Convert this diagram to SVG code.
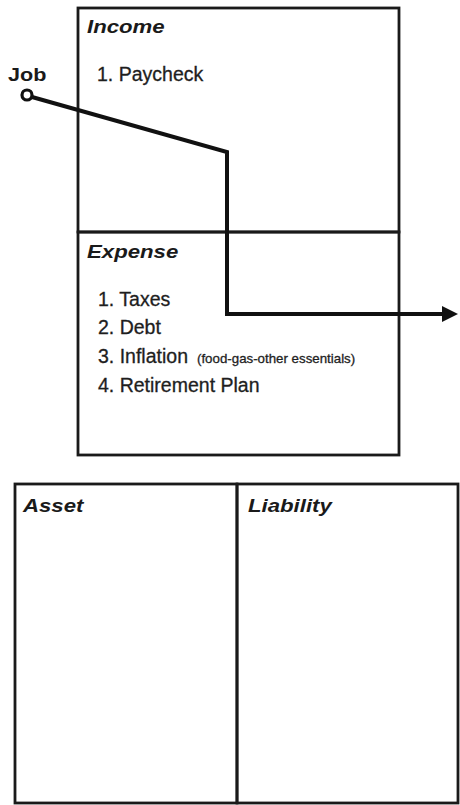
<svg xmlns="http://www.w3.org/2000/svg" width="460" height="805" viewBox="0 0 460 805">
<style>
.box{fill:none;stroke:#1a1a1a;stroke-width:2.8}
.h{font-family:"Liberation Sans",Arial,sans-serif;font-weight:bold;font-style:italic;font-size:18.5px;fill:#1a1a1a}
.j{font-family:"Liberation Sans",Arial,sans-serif;font-weight:bold;font-size:18px;fill:#1a1a1a}
.t{font-family:"Liberation Sans",Arial,sans-serif;font-size:19.5px;fill:#1e1e1e;stroke:#1e1e1e;stroke-width:0.3}
.s{font-size:13.3px}
.conn{fill:none;stroke:#111;stroke-width:4;stroke-linejoin:miter}
</style>
<defs>
<marker id="arr" markerWidth="5" markerHeight="5" refX="1" refY="2" orient="auto" markerUnits="strokeWidth">
<path d="M0,0 L4,2 L0,4 z" fill="#111"/>
</marker>
</defs>
<rect width="460" height="805" fill="#fff"/>
<g id="income">
<rect class="box" x="78" y="8" width="321" height="224"/>
<text class="h" transform="matrix(1.2 0 0 1 87 33.3)">Income</text>
<text class="t" x="97" y="80.7">1. Paycheck</text>
</g>
<g id="expense">
<rect class="box" x="78" y="232" width="321" height="223"/>
<text class="h" transform="matrix(1.2 0 0 1 87 258.3)">Expense</text>
<text class="t" x="98" y="305.7">1. Taxes</text>
<text class="t" x="98" y="334.3">2. Debt</text>
<text class="t" x="98" y="363.3">3. Inflation <tspan class="s" x="197">(food-gas-other essentials)</tspan></text>
<text class="t" x="98" y="391.7">4. Retirement Plan</text>
</g>
<g id="asset">
<rect class="box" x="15" y="484" width="222" height="319"/>
<text class="h" transform="matrix(1.2 0 0 1 23 511.7)">Asset</text>
</g>
<g id="liability">
<rect class="box" x="237" y="484" width="221" height="319"/>
<text class="h" transform="matrix(1.2 0 0 1 248 511.7)">Liability</text>
</g>
<g id="job">
<text class="j" transform="matrix(1.2 0 0 1 8 80.7)">Job</text>
</g>
<g id="connectors">
<polyline class="conn" points="32,97 227,152 227,314 446,314" marker-end="url(#arr)"/>
<circle cx="27" cy="95" r="5" fill="#fff" stroke="#111" stroke-width="3.2"/>
</g>
</svg>
